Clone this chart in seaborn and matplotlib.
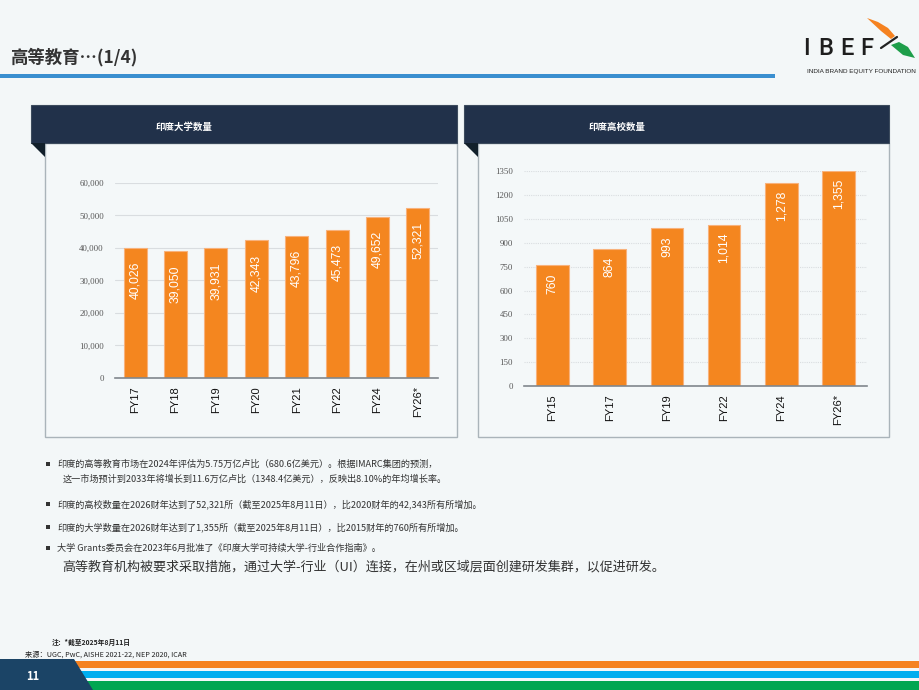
# -*- coding: utf-8 -*-

import matplotlib.pyplot as plt
import matplotlib.patches as mpatches
from matplotlib.ticker import FuncFormatter, FixedLocator
import numpy as np
import seaborn as sns

# data
uni_years = ['FY17', 'FY18', 'FY19', 'FY20', 'FY21', 'FY22', 'FY24', 'FY26*']
uni_counts = [40026, 39050, 39931, 42343, 43796, 45473, 49652, 52321]

col_years = ['FY15', 'FY17', 'FY19', 'FY22', 'FY24', 'FY26*']
col_counts = [760, 864, 993, 1014, 1278, 1355]

bullets = [
    '印度的高等教育市场在2024年评估为5.75万亿卢比（680.6亿美元）。根据IMARC集团的预测，',
    '印度的高校数量在2026财年达到了52,321所（截至2025年8月11日），比2020财年的42,343所有所增加。',
    '印度的大学数量在2026财年达到了1,355所（截至2025年8月11日），比2015财年的760所有所增加。',
    '大学 Grants委员会在2023年6月批准了《印度大学可持续大学-行业合作指南》。',
]
bullet2_cont = '这一市场预计到2033年将增长到11.6万亿卢比（1348.4亿美元），反映出8.10%的年均增长率。'
last_line = '高等教育机构被要求采取措施，通过大学-行业（UI）连接，在州或区域层面创建研发集群，以促进研发。'

sns.set_theme(style='white')
plt.rcParams['font.family'] = ['Noto Sans CJK SC', 'DejaVu Sans']

W, H = 920, 690
BG = '#f3f7f8'
NAVY = '#21314a'
ORANGE = '#f4861f'
TXT = '#333333'

fig = plt.figure(figsize=(9.2, 6.9), dpi=100, facecolor=BG)

# page canvas in pixel coords
bg = fig.add_axes([0, 0, 1, 1])
bg.set_xlim(0, W)
bg.set_ylim(H, 0)
bg.axis('off')
bg.set_facecolor(BG)

# title + rule
bg.text(10, 57, '高等教育…(1/4)', fontsize=12.5, fontweight='bold', color=TXT, va='center')
bg.add_patch(mpatches.Rectangle((0, 74), 775, 3.5, color='#3a8fd0', lw=0))

# logo
for lx, ch in zip([806, 826, 847, 867], 'IBEF'):
    bg.text(lx, 48.5, ch, fontsize=17, color='#1e1e1e', ha='center', va='center',
            family='Roboto', fontweight='medium')
bg.text(861, 72, 'INDIA BRAND EQUITY FOUNDATION', fontsize=4.6, color='#222222',
        ha='center', va='center', family='Liberation Sans')
bg.add_patch(mpatches.Polygon([(867, 18), (878, 22), (888, 28), (895, 36), (891, 39), (881, 31)],
                              color='#f58220', lw=0))
bg.add_patch(mpatches.Polygon([(891, 45), (899, 42), (908, 47), (915, 58), (903, 55)],
                              color='#1e9e4a', lw=0))
bg.plot([881, 897], [48, 37], color='#222222', lw=1.6, solid_capstyle='round')


def panel(x0, x1, title):
    # body
    bg.add_patch(mpatches.Rectangle((x0 + 14, 143), x1 - x0 - 14, 294, facecolor='#f4f8f9',
                                    edgecolor='#aab4ba', lw=1))
    # header
    bg.add_patch(mpatches.Rectangle((x0, 105), x1 - x0, 38, facecolor=NAVY,
                                    edgecolor='#3c4b5d', lw=0.8))
    bg.add_patch(mpatches.Polygon([(x0, 143), (x0 + 14, 143), (x0 + 14, 157)],
                                  color='#12202b', lw=0))
    bg.text(x0 + (x1 - x0) * 0.36, 127, title, color='white', fontsize=6.8,
            fontweight='bold', ha='center', va='center')


panel(31, 457, '印度大学数量')
panel(464, 889, '印度高校数量')


def px_rect(x0, y0, x1, y1):
    return [x0 / W, 1 - y1 / H, (x1 - x0) / W, (y1 - y0) / H]


def draw_bars(ax, cats, vals, ymax, ticks, fmt, grid_ls, label_pad):
    sns.barplot(x=cats, y=vals, ax=ax, color=ORANGE, width=0.57, saturation=1,
                edgecolor='#f8b27c', linewidth=0.8)
    ax.set_facecolor('none')
    ax.set_ylim(0, ymax)
    ax.set_xlim(-0.5, len(cats) - 0.5)
    ax.set_yticks(ticks)
    ax.yaxis.set_major_formatter(FuncFormatter(fmt))
    ax.yaxis.grid(True, color='#d9dde0', lw=0.8, ls=grid_ls)
    ax.set_axisbelow(True)
    for s in ['top', 'right', 'left']:
        ax.spines[s].set_visible(False)
    ax.spines['bottom'].set_color('#80878d')
    ax.spines['bottom'].set_linewidth(1.2)
    ax.tick_params(axis='y', length=0, pad=8, labelsize=6.3, labelcolor='#555555')
    for lab in ax.get_yticklabels():
        lab.set_family('Liberation Serif')
    ax.tick_params(axis='x', which='major', length=0, pad=6, labelsize=8,
                   labelcolor='#111111', rotation=90)
    for lab in ax.get_xticklabels():
        lab.set_family('Liberation Sans')
    ax.xaxis.set_minor_locator(FixedLocator(np.arange(-0.5, len(cats), 1.0)))
    ax.tick_params(axis='x', which='minor', length=4, width=1, color='#80878d', direction='out')
    ax.set_xlabel('')
    ax.set_ylabel('')
    for bar, v in zip(ax.patches, vals):
        ax.annotate(f'{v:,}', (bar.get_x() + bar.get_width() / 2, bar.get_height()),
                    xytext=(0, -label_pad), textcoords='offset pixels', rotation=90,
                    ha='center', va='top', color='white', fontsize=8.8,
                    family='Liberation Sans')


ax1 = fig.add_axes(px_rect(115, 183, 438, 378))
draw_bars(ax1, uni_years, uni_counts, 60000, np.arange(0, 60001, 10000),
          lambda v, p: f'{int(v):,}', '-', 14)

ax2 = fig.add_axes(px_rect(524, 171, 867, 386))
draw_bars(ax2, col_years, col_counts, 1352, np.arange(0, 1351, 150),
          lambda v, p: f'{int(v)}', (0, (1, 1)), 8)

# bullet text
ys = [464, 504, 527, 548]
for y, t in zip(ys, bullets):
    bg.add_patch(mpatches.Rectangle((46, y - 2), 4, 4, color=TXT, lw=0))
    bg.text(57, y, t, fontsize=6.6, color=TXT, va='center')
bg.text(63, 479, bullet2_cont, fontsize=6.6, color=TXT, va='center')
bg.text(62, 567, last_line, fontsize=9.4, color=TXT, va='center')

# footer
bg.text(52, 642, '注：*截至2025年8月11日', fontsize=4.9, fontweight='bold', color='#222222', va='center')
bg.text(25, 655, '来源：UGC, PwC, AISHE 2021-22, NEP 2020, ICAR', fontsize=5.2, color='#222222',
        va='center')

bg.add_patch(mpatches.Polygon([(70, 661), (W, 661), (W, 668), (73, 668)], color='#f58220', lw=0))
bg.add_patch(mpatches.Polygon([(76, 671), (W, 671), (W, 678), (80, 678)], color='#00aeef', lw=0))
bg.add_patch(mpatches.Polygon([(83, 681), (W, 681), (W, H), (86, H)], color='#00a651', lw=0))
bg.add_patch(mpatches.Polygon([(0, 659), (74, 659), (93, H), (0, H)], color='#1b4466', lw=0))
bg.text(33, 677, '11', fontsize=8, fontweight='bold', color='white', ha='center', va='center')

fig.savefig('out.png', dpi=100, facecolor=BG)
